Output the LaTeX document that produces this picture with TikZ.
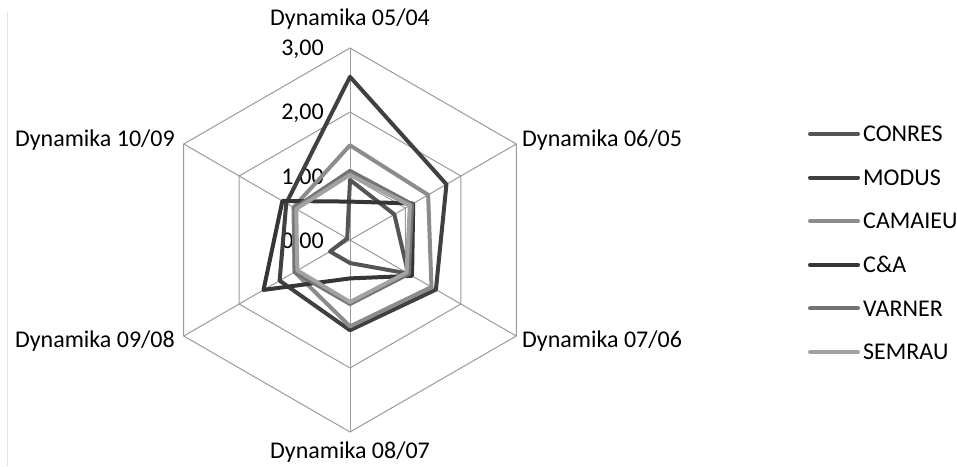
\documentclass[tikz,border=0pt]{standalone}
\usepackage{fontspec}
\setmainfont{Carlito}
\usetikzlibrary{positioning}
\definecolor{spidergray}{HTML}{9A9A9A}
\definecolor{framegray}{HTML}{E4E4E4}
\definecolor{conresgray}{HTML}{555555}
\definecolor{modusgray}{HTML}{404040}
\definecolor{camaieugray}{HTML}{8C8C8C}
\definecolor{cagray}{HTML}{363636}
\definecolor{varnergray}{HTML}{737373}
\definecolor{semraugray}{HTML}{A2A2A2}
\tikzset{
  spider/.style={spidergray, line width=1pt},
  series/.style={line width=4pt, line join=round, line cap=round},
  conres/.style={series, conresgray},
  modus/.style={series, modusgray},
  camaieu/.style={series, camaieugray},
  ca/.style={series, cagray},
  varner/.style={series, varnergray},
  semrau/.style={series, semraugray},
  chart text/.style={inner sep=0pt, font=\fontsize{24}{28}\selectfont},
  legline/.style={shorten >=5pt}
}
\newcommand{\rs}{64}
\newcommand{\radar}[7]{\draw[#1] (90:{#2*\rs}) -- (30:{#3*\rs}) -- (-30:{#4*\rs}) -- (-90:{#5*\rs}) -- (-150:{#6*\rs}) -- (150:{#7*\rs}) -- cycle;}

\begin{document}
\begin{tikzpicture}[x=1pt, y=1pt]
  \useasboundingbox (-350,-226) rectangle (607,240);
  \draw[framegray, line width=1pt] (-342,228) -- (-342,-226);
  % web
  \foreach \r in {1,2,3}
    \draw[spider] (90:{\r*\rs}) \foreach \a in {30,-30,-90,-150,150} { -- (\a:{\r*\rs}) } -- cycle;
  \foreach \a [count=\i] in {90,30,-30,-90,-150,150} {
    \coordinate (a\i) at (\a:{3*\rs});
    \draw[spider] (0,0) -- (a\i);
  }
  % ticks
  \foreach \t in {0,1,2,3}
    \node[chart text, anchor=base east] (t\t) at (-26, {\t*\rs-8}) {\t,00};
  % axes
  \node[chart text, anchor=base] (d0504) at (0,214) {Dynamika 05/04};
  \node[chart text, anchor=base west] (d0605) at (172,93) {Dynamika 06/05};
  \node[chart text, anchor=base west] (d0706) at (172,-107) {Dynamika 07/06};
  \node[chart text, anchor=base] (d0807) at (0,-218) {Dynamika 08/07};
  \node[chart text, anchor=base east] (d0908) at (-175,-107) {Dynamika 09/08};
  \node[chart text, anchor=base east] (d1009) at (-175,93) {Dynamika 10/09};
  % data
  \radar{conres}{0.94}{0.80}{1.05}{0.36}{0.36}{0.05}
  \radar{modus}{2.55}{1.74}{1.55}{1.41}{1.27}{1.15}
  \radar{camaieu}{1.48}{1.41}{1.47}{1.35}{1.00}{1.02}
  \radar{ca}{0.60}{1.14}{1.12}{0.60}{1.56}{1.22}
  \radar{varner}{1.08}{1.12}{1.06}{1.00}{1.00}{1.00}
  \radar{semrau}{1.02}{1.08}{1.02}{0.97}{0.95}{0.97}
  % legend
  \foreach \name/\sty [count=\i] in {CONRES/conres, MODUS/modus, CAMAIEU/camaieu, C\&A/ca, VARNER/varner, SEMRAU/semrau} {
    \coordinate (k\i) at (460, {106-43.6*(\i-1)});
    \node[chart text, right=53pt of k\i] (l\i) {\name};
    \draw[\sty, legline] (k\i) -- (l\i.west);
  }
\end{tikzpicture}
\end{document}
